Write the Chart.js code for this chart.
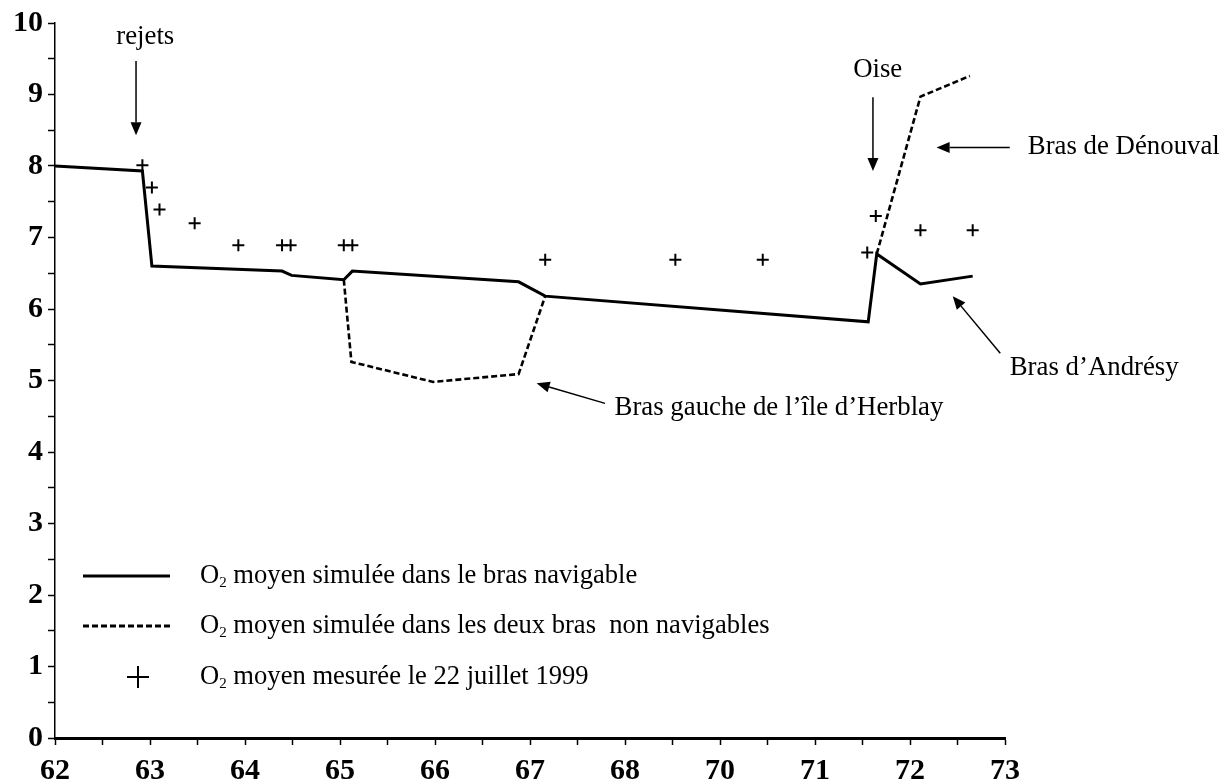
<!DOCTYPE html>
<html>
<head>
<meta charset="utf-8">
<script src="https://cdn.jsdelivr.net/npm/chart.js@4/dist/chart.umd.min.js"></script>
<style>
  html, body { margin: 0; padding: 0; background: #ffffff; }
  #wrap { width: 1223px; height: 782px; }
</style>
</head>
<body>
<div id="wrap"><canvas id="c" width="1223" height="782"></canvas></div>
<script>
// Axis graduations (kilometre points along the river, the 69 mark is skipped on the axis)
const xTickLabels = ['62', '63', '64', '65', '66', '67', '68', '70', '71', '72', '73'];

// Simulated mean O2 in the navigable arm (x in axis graduation units)
const navX = [0, 0.92, 1.02, 2.39, 2.49, 3.04, 3.13, 4.88, 5.16, 8.56, 8.65, 9.11, 9.66];
const navY = [8.00, 7.93, 6.60, 6.53, 6.47, 6.41, 6.53, 6.38, 6.18, 5.82, 6.77, 6.35, 6.46];

// Simulated mean O2 in the two non-navigable arms (Herblay, then Dénouval)
const sideX = [3.04, 3.12, 3.98, 4.88, 5.16, 6.90, 8.65, 9.11, 9.63];
const sideY = [6.41, 5.26, 4.98, 5.09, 6.18, null, 6.77, 8.97, 9.26];

// Mean O2 measured on 22 July 1999
const measX = [0.92, 1.02, 1.10, 1.47, 1.93, 2.39, 2.48, 3.04, 3.13, 5.16, 6.53, 7.45, 8.55, 8.64, 9.11, 9.66];
const measY = [8.01, 7.70, 7.39, 7.20, 6.89, 6.89, 6.89, 6.89, 6.89, 6.69, 6.69, 6.69, 6.79, 7.30, 7.10, 7.10];

const seriesLabels = [
  'O₂ moyen simulée dans le bras navigable',
  'O₂ moyen simulée dans les deux bras  non navigables',
  'O₂ moyen mesurée le 22 juillet 1999'
];

const toPoints = (xs, ys) => xs.map((x, i) => ({ x: x, y: ys[i] }));

const SERIF = '"Liberation Serif", "Times New Roman", serif';
const NOTE_SIZE = 26.8;
const KEY_SIZE = 26.6;

// Arrow helper: shaft from (x1,y1) to tip (x2,y2) with a filled head
function arrow(ctx, x1, y1, x2, y2) {
  const ang = Math.atan2(y2 - y1, x2 - x1);
  const len = 13, half = 5.5;
  const bx = x2 - len * Math.cos(ang), by = y2 - len * Math.sin(ang);
  ctx.beginPath();
  ctx.moveTo(x1, y1);
  ctx.lineTo(bx, by);
  ctx.lineWidth = 1.5;
  ctx.strokeStyle = '#000';
  ctx.stroke();
  ctx.beginPath();
  ctx.moveTo(x2, y2);
  ctx.lineTo(bx + half * Math.sin(ang), by - half * Math.cos(ang));
  ctx.lineTo(bx - half * Math.sin(ang), by + half * Math.cos(ang));
  ctx.closePath();
  ctx.fillStyle = '#000';
  ctx.fill();
}

// Text with "O₂" drawn as O plus a small lowered 2
function drawO2Text(ctx, text, x, y, size) {
  ctx.textBaseline = 'middle';
  ctx.textAlign = 'left';
  ctx.fillStyle = '#000';
  if (text.startsWith('O₂')) {
    ctx.font = size + 'px ' + SERIF;
    ctx.fillText('O', x, y);
    let cx = x + ctx.measureText('O').width;
    ctx.font = Math.round(size * 0.55) + 'px ' + SERIF;
    ctx.fillText('2', cx, y + size * 0.28);
    cx += ctx.measureText('2').width;
    ctx.font = size + 'px ' + SERIF;
    ctx.fillText(text.slice(2), cx, y);
  } else {
    ctx.font = size + 'px ' + SERIF;
    ctx.fillText(text, x, y);
  }
}

// Place names, arrows and the in-plot key
const notes = [
  { text: 'rejets', x: 0.95, y: 9.80, align: 'center' },
  { text: 'Oise', x: 8.66, y: 9.34, align: 'center' },
  { text: 'Bras de Dénouval', x: 10.24, y: 8.26, align: 'left' },
  { text: 'Bras d’Andrésy', x: 10.05, y: 5.17, align: 'left' },
  { text: 'Bras gauche de l’île d’Herblay', x: 5.89, y: 4.61, align: 'left' }
];
const arrows = [
  { x1: 0.853, y1: 9.47, x2: 0.853, y2: 8.43 },
  { x1: 8.61, y1: 8.96, x2: 8.61, y2: 7.93 },
  { x1: 10.05, y1: 8.26, x2: 9.28, y2: 8.26 },
  { x1: 9.95, y1: 5.38, x2: 9.45, y2: 6.18 },
  { x1: 5.79, y1: 4.68, x2: 5.07, y2: 4.96 }
];

const decorPlugin = {
  id: 'decor',
  beforeDraw(chart) {
    const ctx = chart.ctx;
    ctx.save();
    ctx.fillStyle = '#ffffff';
    ctx.fillRect(0, 0, chart.width, chart.height);
    ctx.restore();
  },
  afterDatasetsDraw(chart) {
    const ctx = chart.ctx;
    const xs = chart.scales.x, ys = chart.scales.y;
    const area = chart.chartArea;
    ctx.save();
    notes.forEach(n => {
      ctx.font = NOTE_SIZE + 'px ' + SERIF;
      ctx.fillStyle = '#000';
      ctx.textAlign = n.align;
      ctx.textBaseline = 'middle';
      ctx.fillText(n.text, xs.getPixelForValue(n.x), ys.getPixelForValue(n.y));
    });
    arrows.forEach(a => arrow(ctx,
      xs.getPixelForValue(a.x1), ys.getPixelForValue(a.y1),
      xs.getPixelForValue(a.x2), ys.getPixelForValue(a.y2)));

    // key
    const sx0 = area.left + 28, sx1 = area.left + 115, tx = area.left + 145;
    const rows = [area.bottom - 162, area.bottom - 112, area.bottom - 61];
    ctx.strokeStyle = '#000';
    ctx.lineWidth = 3;
    ctx.setLineDash([]);
    ctx.beginPath(); ctx.moveTo(sx0, rows[0]); ctx.lineTo(sx1, rows[0]); ctx.stroke();
    ctx.setLineDash([6, 3]);
    ctx.beginPath(); ctx.moveTo(sx0, rows[1]); ctx.lineTo(sx1, rows[1]); ctx.stroke();
    ctx.setLineDash([]);
    ctx.lineWidth = 2;
    const cxm = area.left + 83, r = 11;
    ctx.beginPath();
    ctx.moveTo(cxm - r, rows[2]); ctx.lineTo(cxm + r, rows[2]);
    ctx.moveTo(cxm, rows[2] - r); ctx.lineTo(cxm, rows[2] + r);
    ctx.stroke();
    seriesLabels.forEach((t, i) => drawO2Text(ctx, t, tx, rows[i], KEY_SIZE));
    ctx.restore();
  }
};

const tickFont = { family: SERIF, size: 30, weight: 'bold' };

new Chart(document.getElementById('c'), {
  type: 'line',
  data: {
    datasets: [
      {
        label: seriesLabels[0],
        data: toPoints(navX, navY),
        borderColor: '#000',
        borderWidth: 3,
        pointRadius: 0,
        tension: 0,
        fill: false
      },
      {
        label: seriesLabels[1],
        data: toPoints(sideX, sideY),
        borderColor: '#000',
        borderWidth: 2.6,
        borderDash: [6, 3],
        pointRadius: 0,
        tension: 0,
        spanGaps: false,
        fill: false
      },
      {
        label: seriesLabels[2],
        data: toPoints(measX, measY),
        showLine: false,
        pointStyle: 'cross',
        pointRadius: 6,
        pointBorderWidth: 2,
        pointBorderColor: '#000',
        pointBackgroundColor: '#000'
      }
    ]
  },
  options: {
    responsive: false,
    animation: false,
    events: [],
    layout: { padding: { top: 23, right: 218, left: 0, bottom: 0 } },
    plugins: {
      legend: { display: false },
      tooltip: { enabled: false }
    },
    scales: {
      x: {
        type: 'linear',
        min: 0,
        max: 10,
        afterFit: s => { s.height = 44; },
        ticks: {
          stepSize: 0.5,
          autoSkip: false,
          maxRotation: 0,
          padding: 8,
          color: '#000',
          font: tickFont,
          callback: v => Number.isInteger(v) ? xTickLabels[v] : ''
        },
        grid: {
          drawOnChartArea: false,
          drawTicks: true,
          tickLength: 7,
          tickWidth: 1.5,
          tickColor: '#000'
        },
        border: { display: true, color: '#000', width: 3 }
      },
      y: {
        type: 'linear',
        min: 0,
        max: 10,
        afterFit: s => { s.width = 55; },
        ticks: {
          stepSize: 0.5,
          autoSkip: false,
          padding: 5,
          color: '#000',
          font: tickFont,
          callback: v => Number.isInteger(v) ? String(v) : ''
        },
        grid: {
          drawOnChartArea: false,
          drawTicks: true,
          tickLength: 7,
          tickWidth: 1.5,
          tickColor: '#000'
        },
        border: { display: true, color: '#000', width: 1.5 }
      }
    }
  },
  plugins: [decorPlugin]
});
</script>
</body>
</html>
